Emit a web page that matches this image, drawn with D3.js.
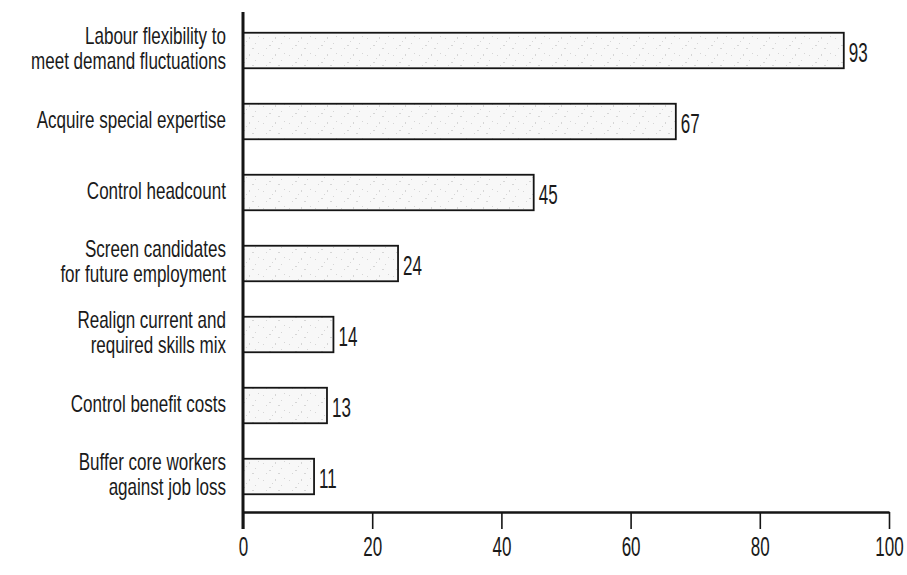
<!DOCTYPE html>
<html>
<head>
<meta charset="utf-8">
<script src="https://cdn.jsdelivr.net/npm/d3@7"></script>
<style>
  html, body { margin: 0; padding: 0; background: #fff; }
  svg { display: block; }
  text { font-family: "Liberation Sans", Arial, sans-serif; fill: #1a1a1a; }
</style>
</head>
<body>
<svg id="chart" width="907" height="575"></svg>
<script>
// Reasons for using contingent workers (% of respondents)
const categories = [
  ["Labour flexibility to", "meet demand fluctuations"],
  ["Acquire special expertise"],
  ["Control headcount"],
  ["Screen candidates", "for future employment"],
  ["Realign current and", "required skills mix"],
  ["Control benefit costs"],
  ["Buffer core workers", "against job loss"]
];
const values = [93, 67, 45, 24, 14, 13, 11];
const xTicks = [0, 20, 40, 60, 80, 100];

const svg = d3.select("#chart");
const plotLeft = 243, plotRight = 889, plotTop = 15, plotBottom = 512;
// condensed lettering: labels and numbers are narrowed horizontally
const labelSize = 24, labelSqueeze = 0.71;
const numSize = 27, numSqueeze = 0.63;

const x = d3.scaleLinear().domain([0, 100]).range([plotLeft, plotRight]);
const y = d3.scaleBand()
  .domain(d3.range(categories.length))
  .range([plotTop, plotBottom])
  .paddingInner(0.5)
  .paddingOuter(0.25);

// light stipple texture for bar fill
const defs = svg.append("defs");
const pat = defs.append("pattern")
  .attr("id", "stipple")
  .attr("patternUnits", "userSpaceOnUse")
  .attr("width", 26).attr("height", 17);
pat.append("rect").attr("width", 26).attr("height", 17).attr("fill", "#f8f8f8");
const specks = [[3, 4, 1, 1], [9, 11, 2, 1], [15, 3, 1, 2], [21, 9, 1, 1], [6, 14, 1, 1], [18, 14, 2, 1], [12, 7, 1, 1], [24, 2, 1, 1]];
pat.selectAll("rect.s").data(specks).join("rect")
  .attr("class", "s")
  .attr("x", d => d[0]).attr("y", d => d[1])
  .attr("width", d => d[2]).attr("height", d => d[3])
  .attr("fill", "#d6d6d6");

// bars
svg.append("g").selectAll("rect").data(values).join("rect")
  .attr("x", x(0))
  .attr("y", (d, i) => y(i))
  .attr("width", d => x(d) - x(0))
  .attr("height", y.bandwidth())
  .attr("fill", "url(#stipple)")
  .attr("stroke", "#151515")
  .attr("stroke-width", 1.8);

// value labels
svg.append("g").selectAll("text").data(values).join("text")
  .attr("transform", (d, i) => `translate(${x(d) + 5},${y(i) + y.bandwidth() / 2 + 11.5}) scale(${numSqueeze},1)`)
  .attr("font-size", numSize)
  .text(d => d);

// category labels
const lineH = 26;
const labelX = 226;
svg.append("g").selectAll("text").data(categories).join("text")
  .attr("text-anchor", "end")
  .attr("font-size", labelSize)
  .attr("transform", (d, i) => {
    const yy = y(i) + y.bandwidth() / 2 + 6 - (d.length - 1) * (lineH / 2);
    return `translate(${labelX},${yy}) scale(${labelSqueeze},1)`;
  })
  .each(function (lines) {
    d3.select(this).selectAll("tspan").data(lines).join("tspan")
      .attr("x", 0)
      .attr("dy", (l, j) => j === 0 ? 0 : lineH)
      .text(l => l);
  });

// x axis
const xAxis = svg.append("g")
  .attr("transform", `translate(0,${plotBottom})`)
  .call(d3.axisBottom(x).tickValues(xTicks).tickSize(17).tickPadding(8).tickSizeOuter(0));
xAxis.select(".domain").attr("stroke", "#151515").attr("stroke-width", 2.4);
xAxis.selectAll(".tick line").attr("stroke", "#151515").attr("stroke-width", 1.6);
xAxis.selectAll(".tick text")
  .attr("font-size", numSize)
  .attr("fill", "#1a1a1a")
  .attr("font-family", "'Liberation Sans', Arial, sans-serif")
  .attr("transform", `scale(${numSqueeze},1)`);

// y axis line
svg.append("line")
  .attr("x1", plotLeft).attr("x2", plotLeft)
  .attr("y1", 12).attr("y2", plotBottom + 17)
  .attr("stroke", "#151515").attr("stroke-width", 3);
</script>
</body>
</html>
